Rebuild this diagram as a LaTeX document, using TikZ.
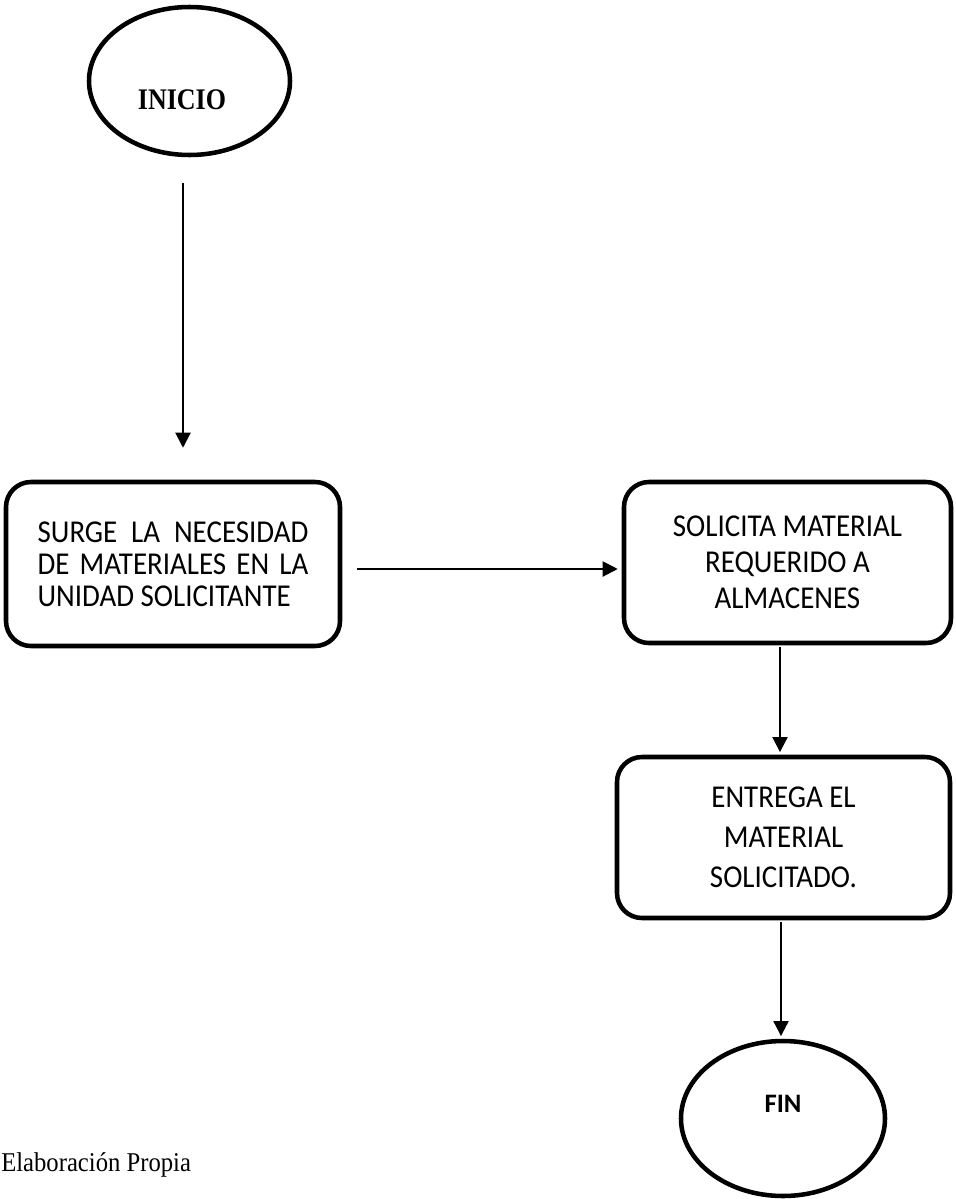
\documentclass[tikz,border=0pt]{standalone}
\usepackage{fontspec}
\setmainfont{Liberation Serif}
\newfontfamily\boxfont{Carlito}
\usetikzlibrary{arrows.meta,shapes.geometric}
\tikzset{
  stepbox/.style={draw, line width=3.4pt, rounded corners=18.75pt, inner sep=0pt},
  term/.style={draw, ellipse, line width=3.4pt, inner sep=0pt},
  arr/.style={line width=1.5pt, -{Triangle[width=11.25pt,length=11.25pt]}},
  lbl/.style={inner sep=0pt}
}
\begin{document}
\begin{tikzpicture}[x=0.75pt,y=-0.75pt]
\useasboundingbox (0,0) rectangle (956,1199);
% terminals
\node[term, minimum width=150.75pt, minimum height=111pt] (inicio) at (189.5,81) {};
\node[lbl] (tinicio) at (182,100) {\scalebox{1}[1.15]{\fontsize{19.5pt}{22pt}\selectfont\bfseries INICIO}};
\node[term, minimum width=153pt, minimum height=116.25pt] (fin) at (783,1118.5) {};
\node[lbl] (tfin) at (783,1104) {\boxfont\fontsize{20pt}{22pt}\selectfont\bfseries FIN};
% boxes
\node[stepbox, minimum width=250.5pt, minimum height=123pt] (b1) at (173,564)
  {\scalebox{1}[1.1]{\parbox{203pt}{\boxfont\fontsize{21.7pt}{21.8pt}\selectfont
   \makebox[203pt][s]{SURGE LA NECESIDAD}\\
   \makebox[203pt][s]{DE MATERIALES EN LA}\\
   UNIDAD SOLICITANTE}}};
\node[stepbox, minimum width=245.25pt, minimum height=120.75pt] (b2) at (787.5,562.5)
  {\scalebox{1}[1.1]{\parbox{230pt}{\centering\boxfont\fontsize{21.7pt}{24.5pt}\selectfont
   SOLICITA MATERIAL\\ REQUERIDO A\\ ALMACENES}}};
\node[stepbox, minimum width=249.75pt, minimum height=120.75pt] (b3) at (783.5,837.5)
  {\scalebox{1}[1.1]{\parbox{230pt}{\centering\boxfont\fontsize{21.7pt}{27.3pt}\selectfont
   ENTREGA EL\\ MATERIAL\\ SOLICITADO.}}};
% source note
\node[lbl, anchor=base west] (nota) at (1,1171)
  {\scalebox{1}[1.1]{\fontsize{18.5pt}{20pt}\selectfont Elaboración Propia}};
% connector guides
\coordinate (g1) at (183,0);
\coordinate (g2) at (0,569);
\coordinate (g3) at (780,0);
\coordinate (g4) at (781,0);
% connectors
\draw[arr, shorten <=19.5pt, shorten >=24pt] (inicio.south -| g1) -- (b1.north -| g1);
\draw[arr, shorten <=11.25pt, shorten >=3pt] (b1.east |- g2) -- (b2.west |- g2);
\draw[arr, shorten <=1.5pt, shorten >=2pt] (b2.south -| g3) -- (b3.north -| g3);
\draw[arr, shorten <=1.5pt, shorten >=2pt] (b3.south -| g4) -- (fin.north -| g4);
\end{tikzpicture}
\end{document}
